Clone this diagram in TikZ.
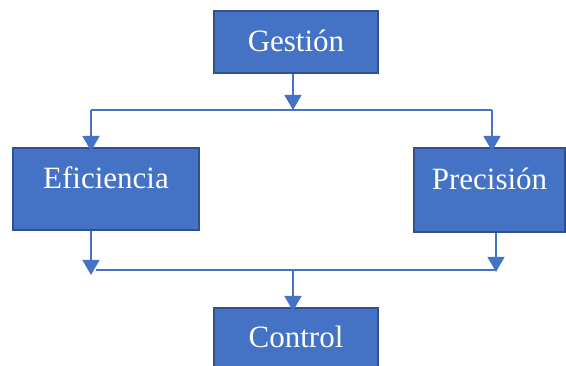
\documentclass[tikz,border=0pt]{standalone}
\usepackage{fontspec}
\setmainfont{Liberation Serif}
\usetikzlibrary{arrows.meta}
\definecolor{boxfill}{HTML}{4472C4}
\definecolor{boxline}{HTML}{2F528F}
\definecolor{conn}{HTML}{4472C4}
\begin{document}
\begin{tikzpicture}[x=1pt,y=-1pt,
  box/.style={draw=boxline, line width=2pt, fill=boxfill, text=white, inner sep=0pt,
    anchor=north west, font=\fontsize{31}{36}\selectfont},
  conline/.style={draw=conn, line width=1.3pt},
  arr/.style={conline, -{Triangle[width=17pt,length=15pt]}}]
\clip (0,0) rectangle (566,366);
\fill[white] (0,0) rectangle (566,366);
\node[box, minimum width=164pt, minimum height=62pt, text height=20pt, text depth=0pt] (gest) at (213,10) {Gestión};
\node[box, minimum width=186pt, minimum height=82pt, text height=20pt, text depth=20pt] (efic) at (12,147) {Eficiencia};
\node[box, minimum width=151pt, minimum height=84pt, text height=20pt, text depth=20pt] (prec) at (413,147) {Precisión};
\node[box, minimum width=164pt, minimum height=80pt, text height=20pt, text depth=20pt] (ctrl) at (213,307) {Control};
\coordinate (t1) at (293,110);
\coordinate (tl) at (91,110);
\coordinate (tr) at (492,110);
\coordinate (b1) at (293,270);
\coordinate (bl) at (96,270);
\coordinate (br) at (495,270);
\draw[arr] (gest.south -| t1) -- (t1);
\draw[conline] (tl) -- (tr);
\draw[arr] (tl) -- ([yshift=-4pt]efic.north -| tl);
\draw[arr] (tr) -- ([yshift=-4pt]prec.north -| tr);
\draw[arr] (efic.south -| tl) -- ([yshift=-5pt]bl -| tl);
\draw[arr] (prec.south -| 496,0) -- ([yshift=-2pt]br -| 496,0);
\draw[conline] (bl) -- (br);
\draw[arr] (b1) -- ([yshift=-4pt]ctrl.north -| b1);
\end{tikzpicture}
\end{document}
